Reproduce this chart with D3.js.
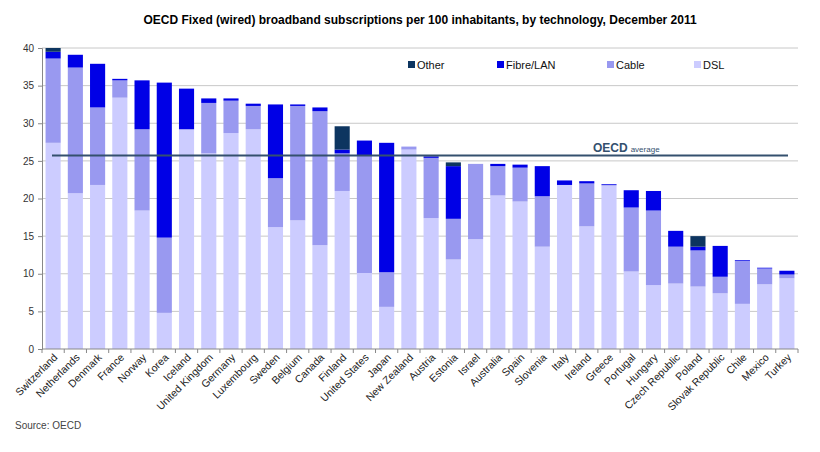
<!DOCTYPE html>
<html>
<head>
<meta charset="utf-8">
<script src="https://cdn.jsdelivr.net/npm/d3@7"></script>
<style>
  body { margin: 0; background: #fff; }
  text { font-family: "Liberation Sans", Arial, sans-serif; }
</style>
</head>
<body>
<svg id="svg" width="820" height="452"></svg>
<script>
const countries = ["Switzerland", "Netherlands", "Denmark", "France", "Norway", "Korea", "Iceland",
  "United Kingdom", "Germany", "Luxembourg", "Sweden", "Belgium", "Canada", "Finland",
  "United States", "Japan", "New Zealand", "Austria", "Estonia", "Israel", "Australia",
  "Spain", "Slovenia", "Italy", "Ireland", "Greece", "Portugal", "Hungary",
  "Czech Republic", "Poland", "Slovak Republic", "Chile", "Mexico", "Turkey"];

const dsl   = [27.4, 20.7, 21.8, 33.4, 18.4, 4.8, 29.2, 26.0, 28.7, 29.2, 16.2, 17.1, 13.8, 21.0,
  10.1, 5.6, 26.5, 17.4, 11.9, 14.6, 20.4, 19.6, 13.6, 21.8, 16.3, 21.7, 10.3, 8.5,
  8.7, 8.3, 7.4, 6.0, 8.6, 9.4];
const cable = [11.2, 16.7, 10.3, 2.3, 10.8, 10.0, 0.0, 6.7, 4.3, 3.1, 6.5, 15.2, 17.8, 5.0,
  15.6, 4.6, 0.4, 8.0, 5.4, 10.0, 3.9, 4.5, 6.7, 0.0, 5.7, 0.1, 8.5, 9.9,
  4.9, 4.8, 2.2, 5.7, 2.1, 0.5];
const fibre = [0.9, 1.7, 5.8, 0.2, 6.5, 20.6, 5.4, 0.6, 0.3, 0.3, 9.8, 0.2, 0.5, 0.5,
  2.0, 17.2, 0.0, 0.2, 7.0, 0.0, 0.3, 0.4, 4.0, 0.6, 0.3, 0.1, 2.3, 2.6,
  2.1, 0.5, 4.1, 0.1, 0.1, 0.5];
const other = [0.5, 0.0, 0.0, 0.0, 0.0, 0.0, 0.0, 0.0, 0.0, 0.0, 0.0, 0.0, 0.0, 3.1,
  0.0, 0.0, 0.0, 0.0, 0.5, 0.0, 0.0, 0.0, 0.0, 0.0, 0.0, 0.0, 0.0, 0.0,
  0.0, 1.4, 0.0, 0.0, 0.0, 0.0];
const oecdAverage = 25.7;
const yTicks = [0, 5, 10, 15, 20, 25, 30, 35, 40];

const seriesKeys = ["DSL", "Cable", "Fibre/LAN", "Other"];
const legendOrder = ["Other", "Fibre/LAN", "Cable", "DSL"];
const colors = { "DSL": "#ccccff", "Cable": "#9999f0", "Fibre/LAN": "#0000e6", "Other": "#0d3560" };

const rows = countries.map((c, i) => ({
  country: c, "DSL": dsl[i], "Cable": cable[i], "Fibre/LAN": fibre[i], "Other": other[i]
}));

const svg = d3.select("#svg");
const plotLeft = 42, plotRight = 798, plotTop = 48, plotBottom = 349;

const x = d3.scaleBand().domain(countries).range([plotLeft, plotRight]).paddingInner(0.32).paddingOuter(0.16);
const y = d3.scaleLinear().domain([0, 40]).range([plotBottom, plotTop]);

// title
svg.append("text")
  .attr("x", 420).attr("y", 24)
  .attr("text-anchor", "middle")
  .attr("font-size", 12).attr("font-weight", "bold")
  .text("OECD Fixed (wired) broadband subscriptions per 100 inhabitants, by technology, December 2011");

// gridlines
svg.append("g")
  .selectAll("line")
  .data(yTicks.filter(d => d > 0))
  .enter().append("line")
  .attr("x1", plotLeft).attr("x2", plotRight)
  .attr("y1", d => y(d)).attr("y2", d => y(d))
  .attr("stroke", "#c8c8c8").attr("stroke-width", 1);

// stacked bars
const stacked = d3.stack().keys(seriesKeys)(rows);
svg.append("g")
  .selectAll("g")
  .data(stacked)
  .enter().append("g")
  .attr("fill", d => colors[d.key])
  .selectAll("rect")
  .data(d => d)
  .enter().append("rect")
  .attr("x", d => x(d.data.country))
  .attr("width", x.bandwidth())
  .attr("y", d => y(d[1]))
  .attr("height", d => y(d[0]) - y(d[1]));

// y axis
const yAxis = svg.append("g")
  .attr("transform", `translate(${plotLeft},0)`)
  .call(d3.axisLeft(y).tickValues(yTicks).tickSize(4).tickPadding(4));
yAxis.select(".domain").attr("stroke", "#888");
yAxis.selectAll(".tick line").attr("stroke", "#888");
yAxis.selectAll(".tick text").attr("font-size", 10).attr("fill", "#333")
  .style("font-family", "'Liberation Sans', Arial, sans-serif");

// x axis line and ticks between categories
svg.append("line")
  .attr("x1", plotLeft).attr("x2", plotRight)
  .attr("y1", plotBottom).attr("y2", plotBottom)
  .attr("stroke", "#888");
svg.append("g")
  .selectAll("line")
  .data(d3.range(countries.length + 1))
  .enter().append("line")
  .attr("x1", i => plotLeft + i * (plotRight - plotLeft) / countries.length)
  .attr("x2", i => plotLeft + i * (plotRight - plotLeft) / countries.length)
  .attr("y1", plotBottom).attr("y2", plotBottom + 4)
  .attr("stroke", "#888");

// x labels
svg.append("g")
  .selectAll("text")
  .data(countries)
  .enter().append("text")
  .attr("transform", d => `translate(${x(d) + x.bandwidth() / 2 + 5},${plotBottom + 9}) rotate(-45)`)
  .attr("text-anchor", "end")
  .attr("font-size", 10.5)
  .attr("fill", "#222")
  .text(d => d);

// OECD average line
svg.append("line")
  .attr("x1", 52).attr("x2", 788)
  .attr("y1", y(oecdAverage)).attr("y2", y(oecdAverage))
  .attr("stroke", "#34506e").attr("stroke-width", 2);
const avgLabel = svg.append("text")
  .attr("x", 593).attr("y", y(oecdAverage) - 4)
  .attr("fill", "#34506e");
avgLabel.append("tspan").attr("font-size", 12).attr("font-weight", "bold").text("OECD");
avgLabel.append("tspan").attr("font-size", 8).attr("dx", 3).text("average");

// legend
const legendX = { "Other": 408, "Fibre/LAN": 497, "Cable": 607, "DSL": 694 };
const legend = svg.append("g")
  .selectAll("g")
  .data(legendOrder)
  .enter().append("g")
  .attr("transform", d => `translate(${legendX[d]},65)`);
legend.append("rect")
  .attr("x", 0).attr("y", -4).attr("width", 7).attr("height", 7)
  .attr("fill", d => colors[d]);
legend.append("text")
  .attr("x", 9).attr("y", 4)
  .attr("font-size", 11)
  .attr("fill", "#111")
  .text(d => d);

// source
svg.append("text")
  .attr("x", 15).attr("y", 429)
  .attr("font-size", 10)
  .attr("fill", "#444")
  .text("Source: OECD");
</script>
</body>
</html>
